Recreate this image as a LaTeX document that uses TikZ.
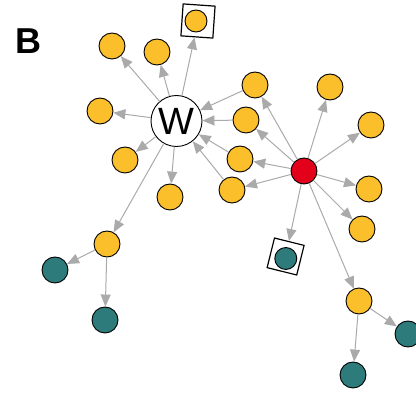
\documentclass[tikz,border=0pt]{standalone}
\usepackage{fontspec}
\setmainfont{Liberation Sans}
\usetikzlibrary{arrows.meta}
\definecolor{ylw}{HTML}{FBBF2B}
\definecolor{tea}{HTML}{2E7B7B}
\definecolor{rd}{HTML}{E2001A}
\definecolor{edgegray}{HTML}{AAAAAA}
\begin{document}
\begin{tikzpicture}[x=1pt,y=-1pt,
  nd/.style={circle,draw=black,line width=0.9pt,inner sep=0pt,minimum size=26pt},
  yl/.style={nd,fill=ylw},
  tl/.style={nd,fill=tea},
  bx/.style={rectangle,draw=black,line width=1.2pt,minimum size=30pt,inner sep=0pt},
  ed/.style={draw=edgegray,line width=1pt,-{Triangle[length=12pt,width=10pt]}}]
\useasboundingbox (0,0) rectangle (416,393);
\node[font=\bfseries\fontsize{36}{36}\selectfont] (lab) at (28.5,41) {B};
% nodes
\node[nd,fill=white,minimum size=51pt,font=\fontsize{38}{38}\selectfont] (W) at (176.5,121) {W};
\node[yl,minimum size=22pt] (yt) at (196,21) {};
\node[bx,rotate=-4,minimum size=32pt] (ytb) at (198,21) {};
\node[yl] (y1) at (112,46) {};
\node[yl] (y2) at (157,52) {};
\node[yl] (y3) at (100,111) {};
\node[yl] (y4) at (125,160) {};
\node[yl] (y5) at (170,197) {};
\node[yl] (y6) at (107,244) {};
\node[tl] (t1) at (55,270) {};
\node[tl] (t2) at (105,320) {};
\node[yl] (ya) at (255,85) {};
\node[yl] (yb) at (246,120) {};
\node[yl] (yc) at (240,159) {};
\node[yl] (yd) at (232,190) {};
\node[nd,fill=rd] (R) at (304,171) {};
\node[yl] (ye) at (330,87) {};
\node[yl] (yf) at (371,125) {};
\node[yl] (yg) at (369,189) {};
\node[yl] (yh) at (362,229) {};
\node[tl,minimum size=22pt] (tt) at (285.8,258.5) {};
\node[bx,rotate=-14,minimum size=30.5pt] (ttb) at (285.6,256.5) {};
\node[yl] (yi) at (359,301) {};
\node[tl] (t3) at (408,334) {};
\node[tl] (t4) at (353,375) {};
% edges
\foreach \n in {y1,y2,ytb,y3,y4,y5,y6} \draw[ed] (W) -- (\n);
\foreach \n in {ya,yb,yc,yd} \draw[ed] (\n) -- (W);
\foreach \n in {ya,yb,yc,yd,ye,yf,yg,yh,ttb,yi} \draw[ed] (R) -- (\n);
\draw[ed] (y6) -- (t1);
\draw[ed] (y6) -- (t2);
\draw[ed] (yi) -- (t3);
\draw[ed] (yi) -- (t4);
\end{tikzpicture}
\end{document}
